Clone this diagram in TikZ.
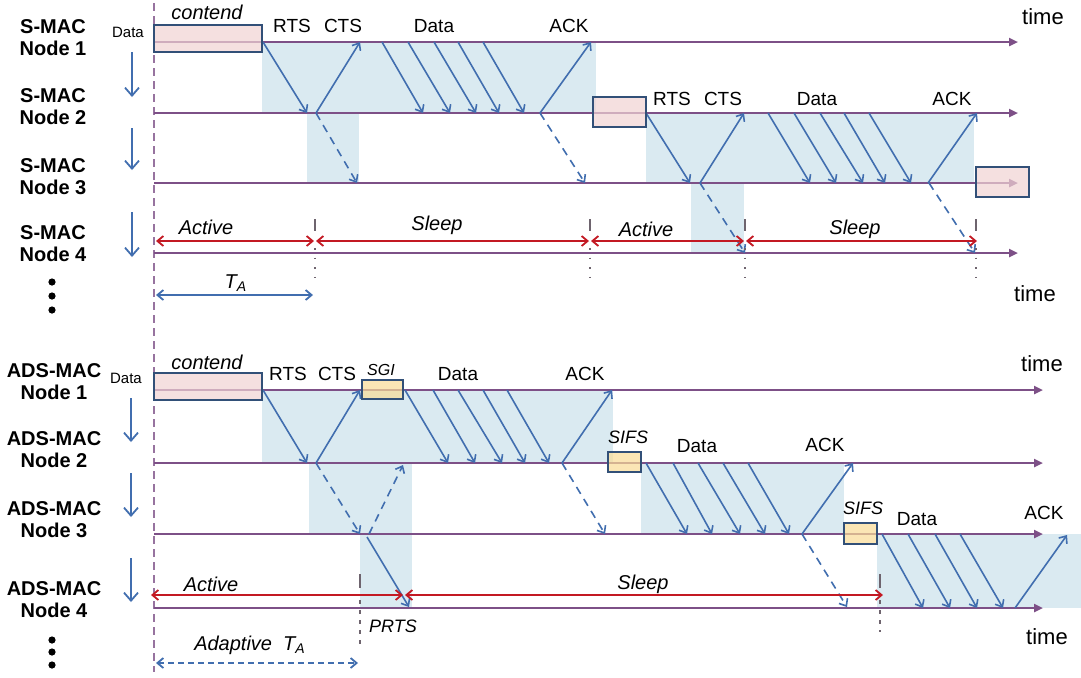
\documentclass[tikz,border=0pt]{standalone}
\usepackage{fontspec}
\setmainfont{Liberation Sans}
\usepackage{xcolor}
\definecolor{macline}{RGB}{125,80,135}
\definecolor{macblue}{RGB}{65,110,175}
\definecolor{macshade}{RGB}{218,234,241}
\definecolor{macpink}{RGB}{242,212,212}
\definecolor{macframe}{RGB}{50,80,120}
\definecolor{macyellow}{RGB}{250,220,150}
\definecolor{macred}{RGB}{195,25,35}
\definecolor{macgray}{RGB}{110,100,110}
\usepackage{tikz}
\usetikzlibrary{arrows.meta}

\begin{document}
\begin{tikzpicture}[x=0.5pt, y=-0.5pt,
    timeline/.style={macline, line width=1.1pt, -{Triangle[length=4.5pt,width=4pt]}},
    msg/.style={macblue, line width=0.8pt, -{Straight Barb[length=3pt,width=5pt]}},
    lost/.style={msg, dash pattern=on 4pt off 3pt},
    hop/.style={macblue, line width=0.9pt, -{Straight Barb[length=4pt,width=7pt]}},
    span/.style={macblue, line width=0.9pt,
      {Straight Barb[length=3pt,width=5pt]}-{Straight Barb[length=3pt,width=5pt]}},
    period/.style={macred, line width=0.9pt,
      {Straight Barb[length=3pt,width=5pt]}-{Straight Barb[length=3pt,width=5pt]}},
    slotbox/.style={draw=macframe, line width=1.1pt, fill opacity=0.7},
    cycletick/.style={macgray, line width=0.8pt},
    nodelabel/.style={font=\fontsize{10}{11}\selectfont\bfseries, align=center},
    pkt/.style={font=\fontsize{9.5}{11}\selectfont},
    phase/.style={font=\fontsize{10}{12}\selectfont\itshape},
    small/.style={font=\fontsize{7.5}{9}\selectfont}]
  \useasboundingbox[fill=white] (0,0) rectangle (1081,677);

  % Zones d'activite : fond bleu clair derriere les echanges
  \fill[macshade] (262,42) rectangle (596,113);
  \fill[macshade] (307,113) rectangle (359,183);
  \fill[macshade] (646,113) rectangle (974,183);
  \fill[macshade] (691,183) rectangle (744,253);
  \fill[macshade] (262,390) rectangle (613,463);
  \fill[macshade] (309,463) rectangle (412,534);
  \fill[macshade] (360,534) rectangle (412,608);
  \fill[macshade] (641,463) rectangle (844,534);
  \fill[macshade] (877,534) rectangle (1081,608);

  % Ligne de depart commune, en tirets
  \draw[macline!80, line width=0.8pt, dash pattern=on 4pt off 2.5pt] (154,3) -- (154,672);

  % Axes de temps (S-MAC en haut, ADS-MAC en bas)
  \foreach \y in {42,113,183,253} \draw[timeline] (154,\y) -- (1018,\y);
  \foreach \y in {390,463,534,608} \draw[timeline] (154,\y) -- (1043,\y);

  % S-MAC : RTS / CTS / Data / ACK entre les noeuds 1 et 2
  \draw[msg] (263,42) -- (307,113);
  \draw[msg] (316,113) -- (360,42);
  \foreach \a/\b in {382/423,408/450,434/476,458/499,483/524}
    \draw[msg] (\a,42) -- (\b,113);
  \draw[msg] (540,113) -- (591,42);
  \draw[lost] (316,113) -- (357,183);
  \draw[lost] (540,113) -- (585,183);
  % S-MAC : relais du noeud 2 vers le noeud 3
  \draw[msg] (646,113) -- (690,183);
  \draw[msg] (700,183) -- (744,113);
  \foreach \a/\b in {768/810,794/836,820/863,844/885,869/911}
    \draw[msg] (\a,113) -- (\b,183);
  \draw[msg] (928,183) -- (977,113);
  \draw[lost] (700,183) -- (745,253);
  \draw[lost] (929,183) -- (975,253);

  % ADS-MAC : noeuds 1 et 2, puis PRTS vers le noeud 4
  \draw[msg] (263,390) -- (307,463);
  \draw[msg] (316,463) -- (360,390);
  \foreach \a/\b in {405/448,433/475,458/502,483/525,507/549}
    \draw[msg] (\a,390) -- (\b,463);
  \draw[msg] (562,463) -- (612,390);
  \draw[lost] (316,463) -- (360,534);
  \draw[lost] (369,534) -- (403,465);
  \draw[msg] (367,537) -- (409,607);
  \draw[lost] (562,463) -- (605,534);
  % ADS-MAC : relais 2 -> 3 puis 3 -> 4
  \foreach \a/\b in {646/687,673/712,698/740,723/765,748/789}
    \draw[msg] (\a,463) -- (\b,534);
  \draw[msg] (802,534) -- (853,463);
  \draw[lost] (802,534) -- (847,607);
  \foreach \a/\b in {882/923,908/950,935/977,960/1003}
    \draw[msg] (\a,534) -- (\b,608);
  \draw[msg] (1015,608) -- (1067,535);

  % Cartouches : attente (rose) et intervalles SGI / SIFS (jaune)
  \draw[slotbox, fill=macpink] (154,25) rectangle (262,52);
  \draw[slotbox, fill=macpink] (593,97) rectangle (646,127);
  \draw[slotbox, fill=macpink] (976,167) rectangle (1029,197);
  \draw[slotbox, fill=macpink] (154,373) rectangle (262,400);
  \draw[slotbox, fill=macyellow] (362,380) rectangle (403,399);
  \draw[slotbox, fill=macyellow] (608,452) rectangle (641,472);
  \draw[slotbox, fill=macyellow] (844,523) rectangle (877,544);

  % Cycles actif / sommeil du noeud 4
  \draw[period] (156,241) -- (314,241);
  \draw[period] (316,241) -- (589,241);
  \draw[period] (591,241) -- (744,241);
  \draw[period] (746,241) -- (977,241);
  \draw[period] (151,595) -- (403,595);
  \draw[period] (405,595) -- (883,595);
  \foreach \x in {315,590,745,976} {
    \draw[cycletick] (\x,219) -- (\x,231);
    \draw[cycletick, dash pattern=on 0.8pt off 4pt] (\x,248) -- (\x,280);
  }
  \foreach \x/\e in {360/648,880/632} {
    \draw[cycletick] (\x,574) -- (\x,588);
    \draw[cycletick, dash pattern=on 2pt off 3pt] (\x,600) -- (\x,\e);
  }
  \draw[span] (156,295) -- (313,295);
  \draw[span, dash pattern=on 3pt off 2pt] (156,663) -- (358,663);

  % Etiquettes des noeuds et fleches de relais
  \node[nodelabel] (smac1) at (53,38) {S-MAC\\Node 1};
  \node[nodelabel] (smac2) at (53,107) {S-MAC\\Node 2};
  \node[nodelabel] (smac3) at (53,177) {S-MAC\\Node 3};
  \node[nodelabel] (smac4) at (53,244) {S-MAC\\Node 4};
  \node[nodelabel] (ads1) at (54,382) {ADS-MAC\\Node 1};
  \node[nodelabel] (ads2) at (54,450) {ADS-MAC\\Node 2};
  \node[nodelabel] (ads3) at (54,520) {ADS-MAC\\Node 3};
  \node[nodelabel] (ads4) at (54,600) {ADS-MAC\\Node 4};
  \draw[hop] (132,52) -- (132,97);
  \draw[hop] (132,128) -- (132,170);
  \draw[hop] (132,212) -- (132,257);
  \draw[hop] (131,398) -- (131,442);
  \draw[hop] (131,473) -- (131,517);
  \draw[hop] (131,558) -- (131,602);
  \foreach \y in {282,296,310,640,652,665} \fill (52,\y) circle[radius=1.8pt];

  % Textes S-MAC
  \node[pkt, font=\fontsize{11}{12}\selectfont] (timeA) at (1043,17) {time};
  \node[pkt, font=\fontsize{11}{12}\selectfont] (timeB) at (1035,294) {time};
  \node[small] (dataA) at (128,32) {Data};
  \node[phase] (contendA) at (207,12) {contend};
  \node[pkt] (rtsA) at (292,26) {RTS};
  \node[pkt] (ctsA) at (343,26) {CTS};
  \node[pkt] (dataA1) at (434,26) {Data};
  \node[pkt] (ackA1) at (569,26) {ACK};
  \node[pkt] (rtsA2) at (672,99) {RTS};
  \node[pkt] (ctsA2) at (723,99) {CTS};
  \node[pkt] (dataA2) at (817,99) {Data};
  \node[pkt] (ackA2) at (952,99) {ACK};
  \node[phase] (activeA1) at (206,227) {Active};
  \node[phase] (sleepA1) at (437,225) {Sleep};
  \node[phase] (activeA2) at (646,229) {Active};
  \node[phase] (sleepA2) at (855,229) {Sleep};
  \node[phase] (taA) at (236,283) {T\textsubscript{A}};

  % Textes ADS-MAC
  \node[pkt, font=\fontsize{11}{12}\selectfont] (timeC) at (1042,364) {time};
  \node[pkt, font=\fontsize{11}{12}\selectfont] (timeD) at (1047,637) {time};
  \node[small] (dataB) at (126,378) {Data};
  \node[phase] (contendB) at (207,362) {contend};
  \node[pkt] (rtsB) at (288,374) {RTS};
  \node[pkt] (ctsB) at (337,374) {CTS};
  \node[small, font=\fontsize{8}{9}\selectfont\itshape] (sgi) at (381,370) {SGI};
  \node[pkt] (dataB1) at (458,374) {Data};
  \node[pkt] (ackB1) at (585,374) {ACK};
  \node[phase, font=\fontsize{9}{10}\selectfont\itshape] (sifs1) at (628,437) {SIFS};
  \node[pkt] (dataB2) at (697,446) {Data};
  \node[pkt] (ackB2) at (825,445) {ACK};
  \node[phase, font=\fontsize{9}{10}\selectfont\itshape] (sifs2) at (863,508) {SIFS};
  \node[pkt] (dataB3) at (917,519) {Data};
  \node[pkt] (ackB3) at (1044,513) {ACK};
  \node[phase] (activeB) at (211,584) {Active};
  \node[phase] (sleepB) at (643,584) {Sleep};
  \node[phase, font=\fontsize{9}{10}\selectfont\itshape] (prts) at (393,626) {PRTS};
  \node[phase] (adaptive) at (250,645) {Adaptive\ \ T\textsubscript{A}};
\end{tikzpicture}
\end{document}
